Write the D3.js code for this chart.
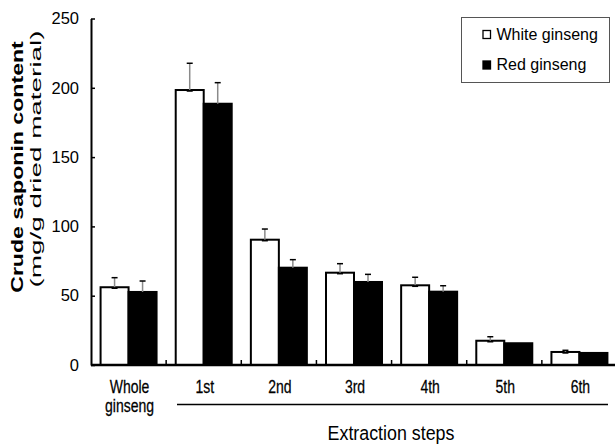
<!DOCTYPE html>
<html><head><meta charset="utf-8">
<script src="https://cdn.jsdelivr.net/npm/d3@7"></script>
<style>body{margin:0;background:#fff;} svg{display:block;font-family:"Liberation Sans",Arial,sans-serif;}</style>
</head><body>
<div id="chart"></div>
<script>
const categories = ["Whole ginseng","1st","2nd","3rd","4th","5th","6th"];
const xLabels = [["Whole","ginseng"],["1st"],["2nd"],["3rd"],["4th"],["5th"],["6th"]];
const series = ["White ginseng","Red ginseng"];
const whiteVals = [56.1, 198.4, 90.4, 66.6, 57.5, 17.5, 9.4];
const whiteErr  = [6.9, 19.3, 7.7, 6.5, 5.8, 2.9, 1.2];
const redVals   = [52.7, 188.5, 70.2, 59.9, 52.9, 15.7, 8.7];
const redErr    = [7.9, 15.2, 5.8, 5.5, 4.3, 0, 0];
const yTicks = [0, 50, 100, 150, 200, 250];

const W = 615, H = 446;
const svg = d3.select("#chart").append("svg").attr("width", W).attr("height", H);

const x0 = d3.scaleBand().domain(categories).range([91, 617]).padding(0);
const x1 = d3.scaleBand().domain(series).range([0, x0.bandwidth()]).paddingInner(0).paddingOuter(0.342);
const y = d3.scaleLinear().domain([0, 250]).range([365, 18.5]);

const data = categories.map((c, i) => ({
  cat: c,
  vals: [
    {s: series[0], v: whiteVals[i], e: whiteErr[i], fill: "#fff"},
    {s: series[1], v: redVals[i], e: redErr[i], fill: "#000"}
  ]
}));

// bars
const g = svg.append("g");
const groups = g.selectAll("g.grp").data(data).join("g")
  .attr("transform", d => `translate(${x0(d.cat)},0)`);
groups.selectAll("rect").data(d => d.vals).join("rect")
  .attr("x", d => x1(d.s))
  .attr("y", d => y(d.v))
  .attr("width", x1.bandwidth())
  .attr("height", d => y(0) - y(d.v))
  .attr("fill", d => d.fill)
  .attr("stroke", "#000")
  .attr("stroke-width", 2);

// error bars
const eb = groups.selectAll("g.err").data(d => d.vals.filter(v => v.e > 0)).join("g");
eb.append("line")
  .attr("x1", d => x1(d.s) + x1.bandwidth()/2)
  .attr("x2", d => x1(d.s) + x1.bandwidth()/2)
  .attr("y1", d => y(d.v))
  .attr("y2", d => y(d.v + d.e))
  .attr("stroke", "#8a8a8a").attr("stroke-width", 1.5);
eb.append("line")
  .attr("x1", d => x1(d.s) + x1.bandwidth()/2 - 3)
  .attr("x2", d => x1(d.s) + x1.bandwidth()/2 + 3)
  .attr("y1", d => y(d.v + d.e))
  .attr("y2", d => y(d.v + d.e))
  .attr("stroke", "#000").attr("stroke-width", 1.5);
eb.append("line")
  .attr("x1", d => x1(d.s) + x1.bandwidth()/2 - 3)
  .attr("x2", d => x1(d.s) + x1.bandwidth()/2 + 3)
  .attr("y1", d => y(d.v) + 1)
  .attr("y2", d => y(d.v) + 1)
  .attr("stroke", "#000").attr("stroke-width", 1.5);

// y axis
const yAxis = svg.append("g").attr("transform", "translate(91,0)")
  .call(d3.axisLeft(y).tickValues(yTicks).tickSize(-4).tickPadding(12).tickSizeOuter(0));
yAxis.select(".domain").attr("stroke", "#000").attr("stroke-width", 2);
yAxis.selectAll(".tick line").attr("stroke", "#000").attr("stroke-width", 1.5);
yAxis.selectAll(".tick text").attr("font-size", 16.5).attr("fill", "#000")
  .attr("font-family", "Liberation Sans, Arial, sans-serif");

// x axis baseline
svg.append("line").attr("x1", x0.range()[0]).attr("x2", W)
  .attr("y1", y(0)).attr("y2", y(0)).attr("stroke", "#000").attr("stroke-width", 2.5);
// category boundary ticks
svg.selectAll("line.ct").data(categories.slice(1)).join("line")
  .attr("x1", d => x0(d)).attr("x2", d => x0(d))
  .attr("y1", y(0)).attr("y2", y(0) - 5)
  .attr("stroke", "#000").attr("stroke-width", 1.5);

// x labels
xLabels.forEach((lines, i) => {
  const cx = x0(categories[i]) + x0.bandwidth()/2 + 1;
  const t = svg.append("text")
    .attr("transform", `translate(${cx},393) scale(0.8,1)`)
    .attr("text-anchor", "middle").attr("font-size", 17.5).attr("fill", "#000")
    .attr("stroke", "#000").attr("stroke-width", 0.25);
  lines.forEach((ln, j) => t.append("tspan").attr("x", 0).attr("y", j * 19).text(ln));
});

// group line
svg.append("line").attr("x1", 177).attr("x2", 608).attr("y1", 404.5).attr("y2", 404.5)
  .attr("stroke", "#000").attr("stroke-width", 1.5);

svg.append("text").attr("transform", "translate(391,440) scale(0.87,1)").attr("text-anchor", "middle")
  .attr("font-size", 20.5)
  .text("Extraction steps");

// y title
svg.append("text").attr("transform", "translate(22.5,167) rotate(-90) scale(1.36,1)")
  .attr("text-anchor", "middle").attr("font-size", 17).attr("font-weight", "bold")
  .text("Crude saponin content");
svg.append("text").attr("transform", "translate(40.5,159) rotate(-90) scale(1.8,1)")
  .attr("text-anchor", "middle").attr("font-size", 15.5)
  .text("(mg/g dried material)");

// legend
const lg = svg.append("g");
lg.append("rect").attr("x", 461.5).attr("y", 17.5).attr("width", 148).attr("height", 65)
  .attr("fill", "#fff").attr("stroke", "#555").attr("stroke-width", 1);
const legendItems = [{s: series[0], fill: "#fff", ty: 39.5}, {s: series[1], fill: "#000", ty: 70}];
legendItems.forEach(d => {
  lg.append("rect").attr("x", 483).attr("y", d.ty - 9).attr("width", 7.5).attr("height", 8)
    .attr("fill", d.fill).attr("stroke", "#000").attr("stroke-width", 1.3);
  lg.append("text").attr("x", 496.5).attr("y", d.ty).attr("font-size", 16).text(d.s);
});
</script>
</body></html>
